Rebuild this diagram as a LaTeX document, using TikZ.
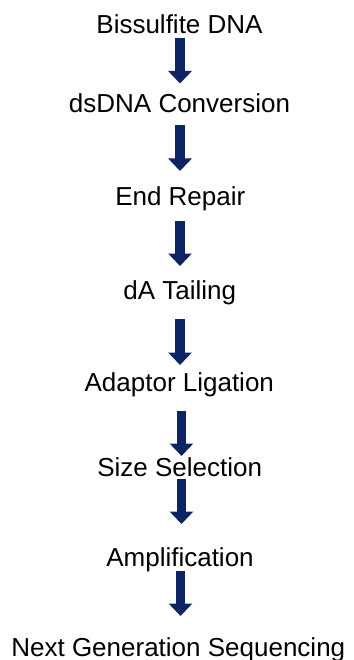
\documentclass[tikz,border=0pt]{standalone}
\usepackage{fontspec}
\setmainfont{Liberation Sans}
\usetikzlibrary{arrows.meta}
\definecolor{navy}{RGB}{12,36,97}
\begin{document}
\begin{tikzpicture}[x=1pt,y=1pt,
  lbl/.style={anchor=base,inner sep=0pt,font=\fontsize{26}{30}\selectfont},
  blockarrow/.style={draw=navy,line width=9.5pt,line cap=butt,
    -{Triangle[width=23pt,length=12.5pt,fill=navy]}}]
\useasboundingbox (0,0) rectangle (353,-660);
\node[lbl] (s1) at (179.5,-33.3) {Bissulfite DNA};
\node[lbl] (s2) at (179.5,-112.3) {dsDNA Conversion};
\node[lbl] (s3) at (180.3,-205) {End Repair};
\node[lbl] (s4) at (179.7,-299) {dA Tailing};
\node[lbl] (s5) at (179.3,-391.7) {Adaptor Ligation};
\node[lbl] (s6) at (179.7,-476.5) {Size Selection};
\node[lbl] (s7) at (180,-566.7) {Amplification};
\node[lbl] (s8) at (178.3,-656.7) {Next Generation Sequencing};
\coordinate (a1t) at (180,-38.5);   \coordinate (a1b) at (180,-83.5);
\coordinate (a2t) at (180,-125);    \coordinate (a2b) at (180,-171);
\coordinate (a3t) at (180,-221);    \coordinate (a3b) at (180,-266);
\coordinate (a4t) at (180,-319);    \coordinate (a4b) at (180,-365);
\coordinate (a5t) at (181.5,-411);  \coordinate (a5b) at (181.5,-456);
\coordinate (a6t) at (181.5,-479);  \coordinate (a6b) at (181.5,-524);
\coordinate (a7t) at (180.5,-571);  \coordinate (a7b) at (180.5,-616);
\foreach \i in {1,...,7} {\draw[blockarrow] (a\i t) -- (a\i b);}
\end{tikzpicture}
\end{document}
